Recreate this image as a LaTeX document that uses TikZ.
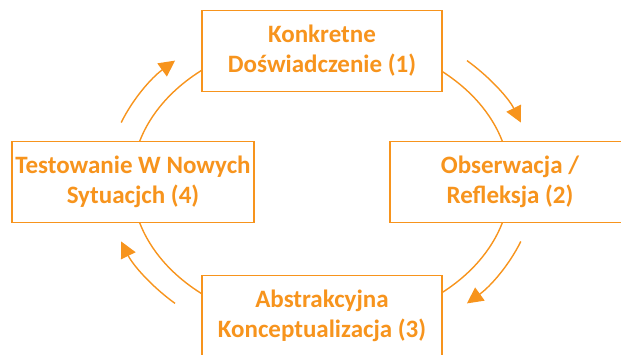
\documentclass[tikz,border=0pt]{standalone}
\usepackage{fontspec}
\setmainfont{Carlito}
\usetikzlibrary{arrows.meta}
\definecolor{cycleorange}{RGB}{247,148,29}
\tikzset{
  stage/.style={draw=cycleorange, line width=1.8pt, fill=white,
    minimum width=240pt, minimum height=81pt, align=center,
    text=cycleorange, font=\fontsize{25}{30}\selectfont\bfseries},
  turn/.style={cycleorange, line width=1.4pt,
    -{Triangle[length=16pt,width=16pt]}}
}
\begin{document}
\begin{tikzpicture}[x=1pt,y=1pt]
\useasboundingbox (0,0) rectangle (621,354);

\coordinate (c) at (321,172);
\def\cycle{(c) ellipse (189pt and 144pt)}

\draw[cycleorange, line width=1.4pt] \cycle;

% arrows round the outside
\draw[turn] ([shift={(47:214pt and 166pt)}]c) arc[start angle=47, end angle=21, x radius=214pt, y radius=166pt];
\draw[turn] ([shift={(-21:214pt and 166pt)}]c) arc[start angle=-21, end angle=-47, x radius=214pt, y radius=166pt];
\draw[turn] ([shift={(227:214pt and 166pt)}]c) arc[start angle=227, end angle=201, x radius=214pt, y radius=166pt];
\draw[turn] ([shift={(159:214pt and 166pt)}]c) arc[start angle=159, end angle=133, x radius=214pt, y radius=166pt];

\node[stage] (konkretne) at (322,303) {Konkretne\\Doświadczenie (1)};
\node[stage] (obserwacja) at (510,172) {Obserwacja /\\Refleksja (2)};
\node[stage] (abstrakcyjna) at (322,38) {Abstrakcyjna\\Konceptualizacja (3)};
\node[stage] (testowanie) at (133,172) {Testowanie W Nowych\\Sytuacjch (4)};

\end{tikzpicture}
\end{document}
